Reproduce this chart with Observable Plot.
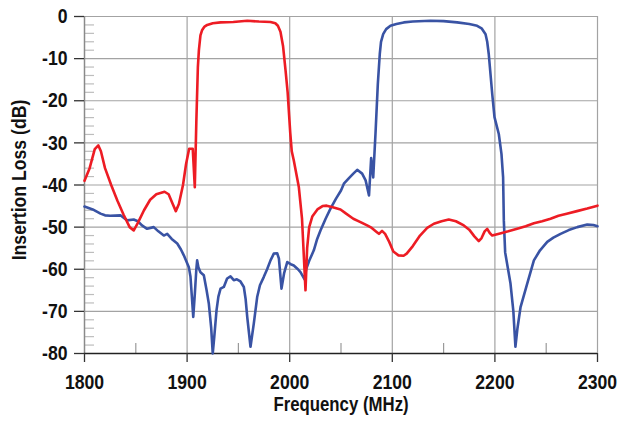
<!DOCTYPE html>
<html>
<head>
<meta charset="utf-8">
<script src="https://cdn.jsdelivr.net/npm/d3@7"></script>
<script src="https://cdn.jsdelivr.net/npm/@observablehq/plot@0.6"></script>
<style>
  html, body { margin: 0; padding: 0; background: #fff; }
  #chart svg { display: block; }
</style>
</head>
<body>
<div id="chart"></div>
<script>
// Red trace (lower band filter): frequency (MHz) and insertion loss (dB)
const redFreq = [1800,1805,1810,1813.5,1816,1820,1826,1832,1838,1844,1848,1852,1858,1864,1870,1878,1882,1886,1889,1892,1896,1899,1902,1905.5,1907.5,1909,1910.5,1911.5,1913,1914.7,1917,1919.6,1925,1932.6,1945,1958.6,1970,1981.3,1986,1988.5,1991,1993.5,1996,1998,2000.5,2002,2004,2008.9,2012,2015.4,2017,2019,2022,2027,2032,2036,2042,2049.5,2055,2062,2069,2075.5,2080,2085,2087,2090,2093,2097,2101,2106,2111,2114,2120,2127,2134,2140.5,2148,2155,2162,2169.7,2175,2180,2184.3,2187,2190,2192.5,2195,2197.4,2205,2213,2221.7,2230,2238,2246,2254.2,2262,2270,2280,2290,2300];
const redLoss = [-39,-36,-31.5,-30.6,-32,-36,-40,-43.7,-47,-50,-50.8,-49,-46,-43.5,-42.2,-41.6,-42.2,-44.5,-46.2,-44.5,-40,-35,-31.4,-31.4,-40.5,-25,-12,-8,-4.5,-3.2,-2.4,-2.0,-1.6,-1.4,-1.3,-1.0,-1.2,-1.3,-1.6,-2.2,-3.6,-7,-12.9,-18,-27.5,-32,-34.2,-40.5,-48,-65,-55,-50,-47.5,-45.8,-45,-44.9,-45.3,-45.8,-46.8,-48,-48.8,-49.6,-50.2,-51.2,-51.6,-50.9,-51.6,-53.5,-55.8,-56.7,-56.8,-56.3,-54.5,-52,-50.2,-49.2,-48.6,-48.2,-48.6,-49.6,-50.6,-52.2,-53.3,-52.6,-51.0,-50.4,-51.4,-52.0,-51.5,-51.0,-50.4,-49.8,-49.1,-48.6,-48.0,-47.3,-46.8,-46.2,-45.6,-44.9];

// Blue trace (upper band filter)
const blueFreq = [1800,1808,1815.6,1820,1825,1835,1841.6,1848,1852,1856,1861,1867.5,1872,1877.3,1880.6,1885,1890.4,1894,1896.8,1901.7,1903.3,1904.5,1906,1907.5,1909,1909.8,1911,1913,1916.3,1919,1921.2,1923.5,1925,1926.5,1928.7,1930.5,1932.6,1935.8,1939,1942.3,1945.5,1948.5,1952,1955.3,1957,1958.6,1961.8,1965,1968.3,1971,1974.8,1978,1981.3,1984.5,1987.8,1989.5,1992,1994.5,1997.6,2001,2004,2008,2010.5,2014.5,2016,2019,2023.5,2026.5,2030,2035,2040,2045,2050,2052.8,2058,2062,2065.8,2070.6,2074,2077.3,2079.4,2081.4,2083.6,2085.9,2087.8,2089,2091.1,2094,2098.2,2104,2111.2,2120,2137.2,2150,2163.2,2175,2182.7,2187,2190.9,2192.5,2194,2197.4,2199.6,2203.8,2206.4,2208,2208.7,2210,2215.2,2218,2220,2222,2225,2231.5,2238,2244,2251,2257,2264,2272,2280.3,2290,2296,2300];
const blueLoss = [-45.1,-45.8,-46.8,-47.2,-47.3,-47.2,-48.4,-48.2,-48.6,-49.6,-50.4,-50.0,-51,-52,-51.6,-52.8,-53.9,-55.3,-56.7,-59.5,-61.8,-66,-71.3,-66,-60,-57.9,-59.5,-60.7,-61.4,-65,-68.2,-74,-80,-76,-69.7,-66.5,-64.6,-64.2,-62.2,-61.7,-62.6,-62.4,-62.9,-64.2,-67,-71.3,-78.4,-72.9,-66.6,-63.8,-61.8,-60,-57.9,-56.3,-56.2,-57.5,-64.6,-61,-58.3,-58.8,-59.1,-60,-60.7,-62.4,-60,-58,-55.5,-53,-50.8,-48,-45.5,-43.3,-41.3,-39.7,-38.3,-37.3,-36.4,-37.3,-38.9,-42.5,-33.6,-38.2,-27.9,-16,-8.9,-6,-4.2,-3,-2.2,-1.8,-1.4,-1.2,-1.0,-1.1,-1.4,-1.8,-2.2,-2.8,-4.2,-6,-8.9,-18.4,-23.9,-27.9,-32.6,-38.2,-48.4,-56,-63.4,-70,-78.4,-74,-69,-63.4,-57.9,-55.5,-53.5,-52.5,-51.6,-50.7,-50,-49.4,-49.5,-49.8];

// Axis ticks
const xMajorTicks = [1800, 1900, 2000, 2100, 2200, 2300];
const xMinorTicks = [1850, 1950, 2050, 2150, 2250];
const xGrid = [1900, 2000, 2100, 2200, 2300];
const yMajorTicks = [0, -10, -20, -30, -40, -50, -60, -70, -80];
const yMinorTicks = [-2,-4,-6,-8,-12,-14,-16,-18,-22,-24,-26,-28,-32,-34,-36,-38,-42,-44,-46,-48,-52,-54,-56,-58,-62,-64,-66,-68,-72,-74,-76,-78];
const yGrid = [0, -10, -20, -30, -40, -50, -60, -70];

const xLabel = "Frequency (MHz)";
const yLabel = "Insertion Loss (dB)";

const red = redFreq.map((f, i) => ({f, v: redLoss[i]}));
const blue = blueFreq.map((f, i) => ({f, v: blueLoss[i]}));

const font = "'Liberation Sans', Arial, sans-serif";

const chart = Plot.plot({
  width: 618,
  height: 425,
  marginLeft: 84,
  marginRight: 21,
  marginTop: 16,
  marginBottom: 72,
  style: {fontFamily: font, fontWeight: "bold", background: "#fff", color: "#111"},
  x: {domain: [1800, 2300]},
  y: {domain: [-80, 0]},
  marks: [
    Plot.gridX(xGrid, {stroke: "#a3a3a3", strokeOpacity: 1, strokeWidth: 1.2}),
    Plot.gridY(yGrid, {stroke: "#a3a3a3", strokeOpacity: 1, strokeWidth: 1.2}),
    Plot.axisY({ticks: yMinorTicks, tickSize: -10, tickFormat: () => "", label: null, stroke: "#bdbdbd", strokeWidth: 1.2}),
    Plot.axisX({ticks: xMinorTicks, tickSize: -10, tickFormat: () => "", label: null, stroke: "#9a9a9a", strokeWidth: 1.2}),
    Plot.ruleX([1800], {stroke: "#8a8a8a", strokeWidth: 1.5}),
    Plot.ruleY([-80], {stroke: "#222", strokeWidth: 1.5}),
    Plot.axisY({ticks: yMajorTicks, tickSize: 10, tickPadding: 7, tickFormat: d => String(d), label: null, fontSize: 21, stroke: "#333", strokeWidth: 1.3, fill: "#111"}),
    Plot.axisX({ticks: xMajorTicks, tickSize: 9, tickPadding: 12, tickFormat: d => String(d), label: null, fontSize: 21, stroke: "#333", strokeWidth: 1.3, fill: "#111"}),
    Plot.line(blue, {x: "f", y: "v", stroke: "#3953a4", strokeWidth: 2.6, curve: "linear"}),
    Plot.line(red, {x: "f", y: "v", stroke: "#ed1c24", strokeWidth: 2.6, curve: "linear"}),
    Plot.text([yLabel], {frameAnchor: "left", textAnchor: "middle", lineAnchor: "middle", rotate: -90, dx: -65, dy: -5, fontSize: 21, fontWeight: "bold", fill: "#111"}),
    Plot.text([xLabel], {frameAnchor: "bottom", textAnchor: "middle", lineAnchor: "middle", dy: 51, fontSize: 20, fontWeight: "bold", fill: "#111"})
  ]
});

// Condense the bold sans glyphs horizontally (the reference uses a condensed bold face)
d3.select(chart).selectAll("text").each(function() {
  const t = this.getAttribute("transform");
  if (t) this.setAttribute("transform", t + " scale(0.84,1)");
});

document.getElementById("chart").append(chart);
</script>
</body>
</html>
